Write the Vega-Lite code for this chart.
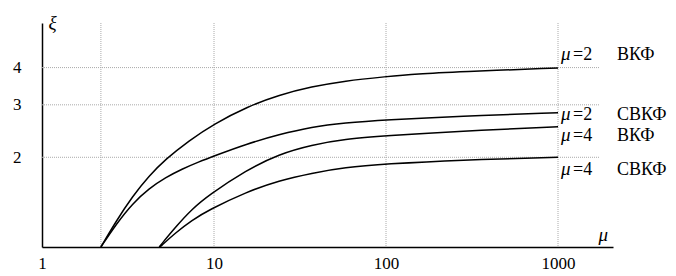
{
  "$schema": "https://vega.github.io/schema/vega-lite/v6.json",
  "width": 571,
  "height": 224,
  "autosize": {"type": "none"},
  "padding": {"left": 42, "top": 23, "right": 63, "bottom": 29},
  "background": "white",
  "config": {"view": {"stroke": null}, "font": "Liberation Serif, Times New Roman, Times, serif"},
  "resolve": {"axis": {"x": "independent", "y": "independent"}},
  "datasets": {
    "curves": [
      {"series": "μ=2 ВКФ", "x": 2.2, "y": 1},
      {"series": "μ=2 ВКФ", "x": 2.7, "y": 1.222},
      {"series": "μ=2 ВКФ", "x": 3.36, "y": 1.479},
      {"series": "μ=2 ВКФ", "x": 4.19, "y": 1.733},
      {"series": "μ=2 ВКФ", "x": 5.23, "y": 1.97},
      {"series": "μ=2 ВКФ", "x": 7.13, "y": 2.272},
      {"series": "μ=2 ВКФ", "x": 10, "y": 2.59},
      {"series": "μ=2 ВКФ", "x": 15.7, "y": 2.96},
      {"series": "μ=2 ВКФ", "x": 23.9, "y": 3.24},
      {"series": "μ=2 ВКФ", "x": 37, "y": 3.45},
      {"series": "μ=2 ВКФ", "x": 57.3, "y": 3.61},
      {"series": "μ=2 ВКФ", "x": 100, "y": 3.73},
      {"series": "μ=2 ВКФ", "x": 151, "y": 3.81},
      {"series": "μ=2 ВКФ", "x": 266, "y": 3.87},
      {"series": "μ=2 ВКФ", "x": 1000, "y": 3.99},
      {"series": "μ=2 СВКФ", "x": 2.2, "y": 1},
      {"series": "μ=2 СВКФ", "x": 2.7, "y": 1.194},
      {"series": "μ=2 СВКФ", "x": 3.36, "y": 1.4},
      {"series": "μ=2 СВКФ", "x": 4.19, "y": 1.572},
      {"series": "μ=2 СВКФ", "x": 5.23, "y": 1.711},
      {"series": "μ=2 СВКФ", "x": 6.52, "y": 1.827},
      {"series": "μ=2 СВКФ", "x": 8.14, "y": 1.929},
      {"series": "μ=2 СВКФ", "x": 10, "y": 2.02},
      {"series": "μ=2 СВКФ", "x": 15.4, "y": 2.216},
      {"series": "μ=2 СВКФ", "x": 23.9, "y": 2.385},
      {"series": "μ=2 СВКФ", "x": 37, "y": 2.53},
      {"series": "μ=2 СВКФ", "x": 57.3, "y": 2.61},
      {"series": "μ=2 СВКФ", "x": 100, "y": 2.67},
      {"series": "μ=2 СВКФ", "x": 266, "y": 2.75},
      {"series": "μ=2 СВКФ", "x": 1000, "y": 2.82},
      {"series": "μ=4 ВКФ", "x": 4.8, "y": 1},
      {"series": "μ=4 ВКФ", "x": 5.98, "y": 1.167},
      {"series": "μ=4 ВКФ", "x": 7.45, "y": 1.34},
      {"series": "μ=4 ВКФ", "x": 9.29, "y": 1.49},
      {"series": "μ=4 ВКФ", "x": 15.4, "y": 1.81},
      {"series": "μ=4 ВКФ", "x": 23.9, "y": 2.05},
      {"series": "μ=4 ВКФ", "x": 37, "y": 2.2},
      {"series": "μ=4 ВКФ", "x": 57.3, "y": 2.3},
      {"series": "μ=4 ВКФ", "x": 100, "y": 2.36},
      {"series": "μ=4 ВКФ", "x": 266, "y": 2.45},
      {"series": "μ=4 ВКФ", "x": 1000, "y": 2.53},
      {"series": "μ=4 СВКФ", "x": 4.85, "y": 1},
      {"series": "μ=4 СВКФ", "x": 5.98, "y": 1.117},
      {"series": "μ=4 СВКФ", "x": 7.45, "y": 1.23},
      {"series": "μ=4 СВКФ", "x": 9.29, "y": 1.33},
      {"series": "μ=4 СВКФ", "x": 15.4, "y": 1.53},
      {"series": "μ=4 СВКФ", "x": 23.9, "y": 1.67},
      {"series": "μ=4 СВКФ", "x": 37, "y": 1.77},
      {"series": "μ=4 СВКФ", "x": 57.3, "y": 1.85},
      {"series": "μ=4 СВКФ", "x": 100, "y": 1.9},
      {"series": "μ=4 СВКФ", "x": 266, "y": 1.96},
      {"series": "μ=4 СВКФ", "x": 1000, "y": 2.0}
    ],
    "vgrid": [{"x": 2.2}, {"x": 10}, {"x": 100}, {"x": 1000}],
    "hgrid": [{"y": 2}, {"y": 3}, {"y": 4}],
    "labels": [
      {"series": "μ=2 ВКФ", "eq": "=2", "name": "ВКФ", "y": 4.24},
      {"series": "μ=2 СВКФ", "eq": "=2", "name": "СВКФ", "y": 2.67},
      {"series": "μ=4 ВКФ", "eq": "=4", "name": "ВКФ", "y": 2.26},
      {"series": "μ=4 СВКФ", "eq": "=4", "name": "СВКФ", "y": 1.745}
    ]
  },
  "layer": [
    {
      "data": {"name": "vgrid"},
      "mark": {"type": "rule", "stroke": "#aaaaaa", "strokeWidth": 1, "strokeDash": [1, 1]},
      "encoding": {
        "x": {"field": "x", "type": "quantitative", "scale": {"type": "log", "domain": [1, 2088], "nice": false}, "axis": null}
      }
    },
    {
      "data": {"name": "hgrid"},
      "mark": {"type": "rule", "stroke": "#aaaaaa", "strokeWidth": 1, "strokeDash": [1, 1]},
      "encoding": {
        "y": {"field": "y", "type": "quantitative", "scale": {"type": "log", "domain": [1, 5.645], "nice": false}, "axis": null},
        "x": {"datum": 1, "type": "quantitative", "axis": null},
        "x2": {"datum": 1750}
      }
    },
    {
      "data": {"name": "curves"},
      "mark": {"type": "line", "stroke": "#000000", "strokeWidth": 1.5, "interpolate": "basis"},
      "encoding": {
        "detail": {"field": "series", "type": "nominal"},
        "x": {
          "field": "x", "type": "quantitative",
          "scale": {"type": "log", "domain": [1, 2088], "nice": false},
          "axis": {
            "values": [1, 10, 100, 1000], "format": "d", "grid": false, "ticks": false,
            "labelFlush": false, "labelFont": "Liberation Serif, Times New Roman, serif", "labelFontSize": 17, "labelColor": "#000000",
            "labelPadding": 8, "domain": true, "domainColor": "#000000", "domainWidth": 1.5,
            "title": "μ", "titleFont": "Liberation Serif, Times New Roman, serif", "titleFontStyle": "italic", "titleFontWeight": "normal",
            "titleFontSize": 19, "titleColor": "#000000", "titleX": 556, "titleY": -7,
            "titleAlign": "left", "titleBaseline": "alphabetic", "titleAngle": 0
          }
        },
        "y": {
          "field": "y", "type": "quantitative",
          "scale": {"type": "log", "domain": [1, 5.645], "nice": false},
          "axis": {
            "values": [2, 3, 4], "format": "d", "grid": false, "ticks": false,
            "labelFont": "Liberation Serif, Times New Roman, serif", "labelFontSize": 17, "labelColor": "#000000",
            "labelPadding": 21, "domain": true, "domainColor": "#000000", "domainWidth": 1.5,
            "title": "ξ", "titleFont": "Liberation Serif, Times New Roman, serif", "titleFontStyle": "italic", "titleFontWeight": "normal",
            "titleFontSize": 19, "titleColor": "#000000", "titleX": 6, "titleY": 5,
            "titleAlign": "left", "titleBaseline": "alphabetic", "titleAngle": 0
          }
        }
      }
    },
    {
      "data": {"name": "labels"},
      "mark": {"type": "text", "align": "left", "baseline": "alphabetic", "dx": 3, "font": "Liberation Serif, Times New Roman, serif", "fontStyle": "italic", "fontSize": 19, "fill": "#000000"},
      "encoding": {
        "x": {"datum": 1000, "type": "quantitative", "axis": null},
        "y": {"field": "y", "type": "quantitative", "axis": null},
        "text": {"value": "μ"}
      }
    },
    {
      "data": {"name": "labels"},
      "mark": {"type": "text", "align": "left", "baseline": "alphabetic", "dx": 15, "font": "Liberation Serif, Times New Roman, serif", "fontSize": 18, "fill": "#000000"},
      "encoding": {
        "x": {"datum": 1000, "type": "quantitative", "axis": null},
        "y": {"field": "y", "type": "quantitative", "axis": null},
        "text": {"field": "eq"}
      }
    },
    {
      "data": {"name": "labels"},
      "mark": {"type": "text", "align": "left", "baseline": "alphabetic", "dx": 59, "font": "Liberation Serif, Times New Roman, serif", "fontSize": 18, "fill": "#000000"},
      "encoding": {
        "x": {"datum": 1000, "type": "quantitative", "axis": null},
        "y": {"field": "y", "type": "quantitative", "axis": null},
        "text": {"field": "name"}
      }
    }
  ]
}
